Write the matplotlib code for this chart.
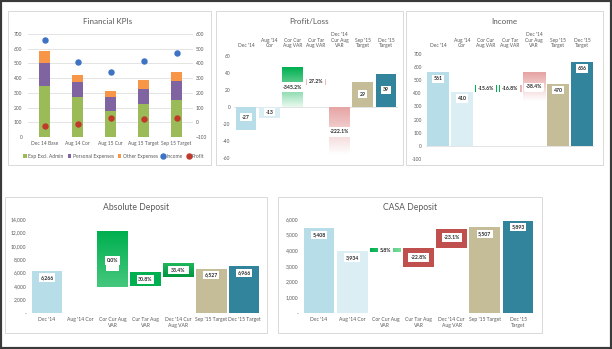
import numpy as np
import matplotlib
matplotlib.use("Agg")
import matplotlib.pyplot as plt
from matplotlib.patches import Rectangle
from matplotlib.colors import LinearSegmentedColormap
from matplotlib.ticker import FuncFormatter

plt.rcParams['font.family'] = ['Lato', 'DejaVu Sans']

# ---- données ----
kpi_cats = ["Dec 14 Base", "Aug 14 Cor", "Aug 15 Cur", "Aug 15 Target", "Sep 15 Target"]
kpi_exp = [345, 270, 175, 222, 250]
kpi_pers = [158, 104, 95, 106, 128]
kpi_other = [81, 45, 40, 57, 62]
kpi_income = [561, 410, 345, 414, 470]
kpi_profit = [-27, -13, 32, 22, 29]

top_cats = ["Dec '14", "Aug '14\nCor", "Cor Cur\nAug VAR", "Cur Tar\nAug VAR",
            "Dec '14\nCur Aug\nVAR", "Sep '15\nTarget", "Dec '15\nTarget"]
ad_cats = ["Dec '14", "Aug '14 Cor", "Cor Cur Aug\nVAR", "Cur Tar Aug\nVAR",
           "Dec '14 Cur\nAug VAR", "Sep '15 Target", "Dec '15 Target"]
cs_cats = ["Dec '14", "Aug '14 Cor", "Cor Cur Aug\nVAR", "Cur Tar Aug\nVAR",
           "Dec '14 Cur\nAug VAR", "Sep '15 Target", "Dec '15\nTarget"]

pl_lo = [-27, -13, 0, 26, -57, 0, 0]
pl_hi = [0, 0, 47, 33, 0, 29, 39]
pl_text = ["-27", "-13", "-345.2%", "27.2%", "-222.1%", "29", "39"]
pl_text_y = [-12, -6, 23, 30, -29, 15, 20]

inc_lo = [0, 0, 411, 411, 345, 0, 0]
inc_hi = [561, 410, 462, 462, 561, 470, 636]
inc_text = ["561", "410", "-15.6%", "-16.8%", "-38.4%", "470", "636"]
inc_text_y = [510, 360, 437, 437, 450, 424, 589]

ad_lo = [0, 0, 3900, 4000, 5300, 0, 0]
ad_hi = [6266, 0, 12200, 6150, 7500, 6527, 6966]
ad_text = ["6,266", "", "0.0%", "30.8%", "33.4%", "6,527", "6,966"]
ad_text_y = [5300, 0, 7800, 5000, 6400, 5650, 6000]

cs_lo = [0, 0, 3920, 2950, 4150, 0, 0]
cs_hi = [5408, 3934, 4135, 4150, 5360, 5507, 5893]
cs_text = ["5,408", "3,934", "5.8%", "-22.8%", "-23.1%", "5,507", "5,893"]
cs_text_y = [4990, 3535, 3990, 3560, 4820, 5035, 5485]

# ---- styles ----
LB, LLB, TAN, TEAL = "#B7DEE8", "#DAEEF3", "#C4BD97", "#31849B"
GRN, RED, PINK = "#00B050", "#C0504D", "#E6A3A3"
TXT = "#595959"

pl_fill = [LB, LLB, ("#E8F8EE", GRN), "#F2B8B8", ("#FFFFFF", PINK), TAN, TEAL]
inc_fill = [LB, LLB, GRN, (GRN, "#F2B8B8", "h"), ("#FFFFFF", PINK), TAN, TEAL]
ad_fill = [LB, LLB, ("#45C77D", GRN), GRN, ("#00963F", "#22B85A"), TAN, TEAL]
cs_fill = [LB, LLB, (GRN, "#7ADC9C", "h"), RED, RED, TAN, TEAL]

# boîtes blanches pour les VAR : (colonne, y0, y1, largeur relative)
pl_boxes = [(2, 19, 29, 1.0), (3, 25, 34, 0.8), (4, -35, -24, 1.0)]
inc_boxes = [(2, 411, 462, 0.8), (3, 411, 462, 0.8), (4, 411, 462, 0.85)]
ad_boxes = [(2, 6250, 8400, 0.42), (3, 4300, 5650, 0.57), (4, 5800, 7000, 0.7)]
cs_boxes = [(2, 3850, 4200, 0.4), (3, 3280, 3810, 0.65), (4, 4520, 5100, 0.65)]

W, H = 612, 349
fig = plt.figure(figsize=(W / 100, H / 100), dpi=100)
fig.patch.set_facecolor("white")


def px(x0, y0, x1, y1):
    return [x0 / W, 1 - y1 / H, (x1 - x0) / W, (y1 - y0) / H]


def panel(x0, y0, x1, y1):
    fig.patches.append(Rectangle((x0 / W, 1 - y1 / H), (x1 - x0) / W, (y1 - y0) / H,
                                 transform=fig.transFigure, facecolor="white",
                                 edgecolor="#D9D9D9", linewidth=0.7, zorder=-5))


def grad_bar(ax, x, lo, hi, w, spec):
    rect = Rectangle((x - w / 2, lo), w, hi - lo, facecolor="none", edgecolor="none")
    ax.add_patch(rect)
    cmap = LinearSegmentedColormap.from_list("g", [spec[0], spec[1]])
    g = np.linspace(0, 1, 64).reshape(-1, 1)
    if len(spec) > 2:
        g = g.T
    im = ax.imshow(g, extent=(x - w / 2, x + w / 2, lo, hi), origin="lower",
                   cmap=cmap, aspect="auto", zorder=2, interpolation="bilinear")
    im.set_clip_path(rect)


def waterfall(ax, cats, lo, hi, texts, text_y, fills, boxes, w, ylim, yticks,
              fmt, top, fs_tick, pad_x):
    for i in range(len(cats)):
        if hi[i] == lo[i]:
            continue
        f = fills[i]
        if isinstance(f, tuple):
            grad_bar(ax, i, lo[i], hi[i], w, f)
        else:
            ax.bar(i, hi[i] - lo[i], bottom=lo[i], width=w, color=f, zorder=2)
    for (i, y0, y1, wf) in boxes:
        ax.add_patch(Rectangle((i - w * wf / 2, y0), w * wf, y1 - y0,
                               facecolor="white", edgecolor="none", zorder=3))
    for i, t in enumerate(texts):
        if t:
            ax.text(i, text_y[i], t, ha="center", va="center", fontsize=3.7,
                    fontweight="bold", color="#262626", zorder=4,
                    bbox=dict(facecolor="white", edgecolor="none", pad=1.2))
    ax.axhline(0, color="#D9D9D9", linewidth=0.5, zorder=1)
    ax.set_xlim(-0.5, len(cats) - 0.5)
    ax.set_ylim(*ylim)
    ax.set_yticks(yticks)
    ax.yaxis.set_major_formatter(FuncFormatter(fmt))
    ax.set_xticks(range(len(cats)))
    ax.set_xticklabels(cats, fontsize=fs_tick, color=TXT)
    if top:
        ax.xaxis.tick_top()
    ax.tick_params(axis="x", length=0, pad=pad_x)
    ax.tick_params(axis="y", length=0, labelsize=fs_tick, labelcolor=TXT, pad=3)
    for s in ax.spines.values():
        s.set_visible(False)
    ax.patch.set_alpha(0)


# cadres
panel(8, 11, 211, 165)
panel(216, 11, 403, 165)
panel(406, 11, 603, 165)
panel(5, 197, 267, 333)
panel(278, 197, 542, 333)

# ---- Financial KPIs ----
ax1 = fig.add_axes(px(28, 34, 193, 137))
x = np.arange(len(kpi_cats))
b1 = ax1.bar(x, kpi_exp, width=0.34, color="#9BBB59", label="Exp Excl. Admin", zorder=2)
b2 = ax1.bar(x, kpi_pers, width=0.34, bottom=kpi_exp, color="#8064A2",
             label="Personal Expenses", zorder=2)
bot = np.array(kpi_exp) + np.array(kpi_pers)
b3 = ax1.bar(x, kpi_other, width=0.34, bottom=bot, color="#F79646",
             label="Other Expenses", zorder=2)
ax1.set_ylim(0, 700)
ax1.set_yticks(range(0, 701, 100))
ax1.set_xlim(-0.5, 4.5)
ax1.set_xticks(x)
ax1.set_xticklabels(kpi_cats, fontsize=3.5, color=TXT)
ax1.tick_params(axis="x", length=0, pad=3)
ax1.tick_params(axis="y", length=0, labelsize=3.5, labelcolor=TXT, pad=4)
ax1.grid(axis="y", color="#D9D9D9", linewidth=0.5, zorder=0)
ax1.set_axisbelow(True)
for s in ax1.spines.values():
    s.set_visible(False)
ax1.patch.set_alpha(0)

ax1b = ax1.twinx()
s1 = ax1b.scatter(x, kpi_income, s=13, color="#3D72C4", label="Income", zorder=3)
s2 = ax1b.scatter(x, kpi_profit, s=13, color="#C0392B", label="Profit", zorder=3)
ax1b.set_ylim(-100, 600)
ax1b.set_yticks(range(-100, 601, 100))
ax1b.tick_params(axis="y", length=0, labelsize=3.5, labelcolor=TXT, pad=2)
for s in ax1b.spines.values():
    s.set_visible(False)
ax1.legend(handles=[b1, b2, b3, s1, s2], loc="center", bbox_to_anchor=(0.52, -0.185),
           ncol=5, fontsize=3.6, frameon=False, handlelength=0.7, handleheight=0.7,
           columnspacing=0.8, handletextpad=0.3, markerscale=1.0, labelcolor=TXT)
fig.text(108 / W, 1 - 22 / H, "Financial KPIs", ha="center", va="center",
         fontsize=5.8, color=TXT)

# ---- Profit/Loss ----
ax2 = fig.add_axes(px(234.3, 56, 397.7, 158))
waterfall(ax2, top_cats, pl_lo, pl_hi, pl_text, pl_text_y, pl_fill, pl_boxes, 0.88,
          (-60, 60), range(-60, 61, 20), lambda v, p: f"{v:.0f}", True, 3.5, 5.5)
fig.text(309 / W, 1 - 22 / H, "Profit/Loss", ha="center", va="center",
         fontsize=5.8, color=TXT)

# ---- Income ----
ax3 = fig.add_axes(px(426, 54, 594, 159))
waterfall(ax3, top_cats, inc_lo, inc_hi, inc_text, inc_text_y, inc_fill, inc_boxes, 0.92,
          (-100, 700), range(-100, 701, 100), lambda v, p: f"{v:.0f}", True, 3.5, 4.0)
fig.text(504 / W, 1 - 22 / H, "Income", ha="center", va="center",
         fontsize=5.8, color=TXT)


def kfmt(v, p):
    return "-" if v == 0 else f"{v:,.0f}"


# ---- Absolute Deposit ----
ax4 = fig.add_axes(px(30.6, 219, 260.4, 313))
waterfall(ax4, ad_cats, ad_lo, ad_hi, ad_text, ad_text_y, ad_fill, ad_boxes, 0.94,
          (0, 14000), range(0, 14001, 2000), kfmt, False, 3.6, 3)
fig.text(136 / W, 1 - 207 / H, "Absolute Deposit", ha="center", va="center",
         fontsize=6.2, color=TXT)

# ---- CASA Deposit ----
ax5 = fig.add_axes(px(302.4, 219, 534.6, 313))
waterfall(ax5, cs_cats, cs_lo, cs_hi, cs_text, cs_text_y, cs_fill, cs_boxes, 0.93,
          (0, 6000), range(0, 6001, 1000), kfmt, False, 3.6, 3)
fig.text(410 / W, 1 - 207 / H, "CASA Deposit", ha="center", va="center",
         fontsize=6.2, color=TXT)

# bordure sombre
fig.patches.append(Rectangle((0, 0), 1, 1, transform=fig.transFigure, fill=False,
                             edgecolor="#3A3A3A", linewidth=3, zorder=10))

fig.savefig("out.png", dpi=100)
